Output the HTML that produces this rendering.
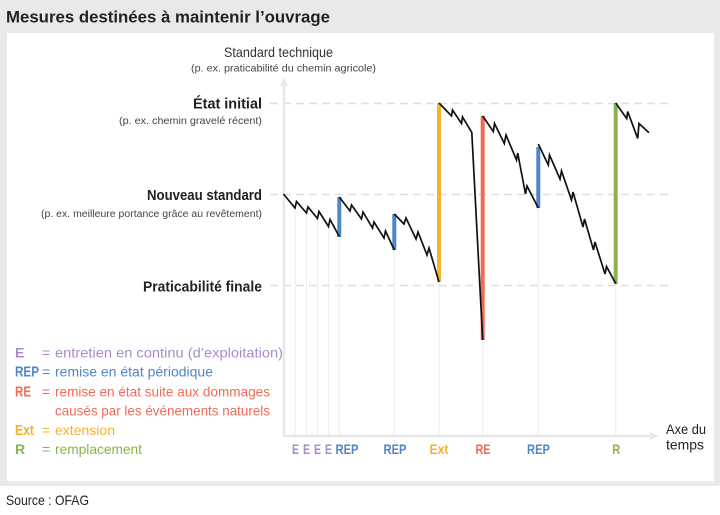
<!DOCTYPE html>
<html><head><meta charset="utf-8"><style>
html,body{margin:0;padding:0;background:#e9e9e9;}
svg{display:block;}
text{font-family:"Liberation Sans",sans-serif;}
</style></head><body>
<svg width="720" height="515" viewBox="0 0 720 515" xmlns="http://www.w3.org/2000/svg">
<rect x="0" y="0" width="720" height="515" fill="#e9e9e9"/>
<rect x="7" y="33" width="707" height="448" fill="#ffffff"/>
<rect x="0" y="486" width="720" height="29" fill="#ffffff"/>
<text x="6" y="22.5" font-size="17" font-weight="bold" fill="#222" textLength="324" lengthAdjust="spacingAndGlyphs">Mesures destinées à maintenir l’ouvrage</text>

<!-- dashed levels -->
<g stroke="#dedede" stroke-width="1.5" stroke-dasharray="8 5">
<line x1="270" y1="103.5" x2="668" y2="103.5"/>
<line x1="270" y1="194.5" x2="668" y2="194.5"/>
<line x1="270" y1="285.5" x2="668" y2="285.5"/>
</g>

<!-- thin grid verticals -->
<g stroke="#ececec" stroke-width="1">
<line x1="295" y1="208" x2="295" y2="436"/>
<line x1="306.5" y1="213" x2="306.5" y2="436"/>
<line x1="317.5" y1="219" x2="317.5" y2="436"/>
<line x1="328.5" y1="226" x2="328.5" y2="436"/>
<line x1="339.3" y1="236" x2="339.3" y2="436"/>
<line x1="394.3" y1="250" x2="394.3" y2="436"/>
<line x1="439" y1="282" x2="439" y2="436"/>
<line x1="482.7" y1="340" x2="482.7" y2="436"/>
<line x1="538.3" y1="208" x2="538.3" y2="436"/>
<line x1="615.7" y1="284" x2="615.7" y2="436"/>
</g>

<!-- axes -->
<line x1="284" y1="84" x2="284" y2="437" stroke="#e8e8e8" stroke-width="2.5"/>
<polygon points="284,77 280,86 288,86" fill="#e8e8e8"/>
<line x1="283" y1="436" x2="652" y2="436" stroke="#e8e8e8" stroke-width="2.5"/>
<polygon points="659,436 650,432 650,440" fill="#e8e8e8"/>

<!-- colored bars -->
<g stroke-width="4" stroke-linecap="butt">
<line x1="339.3" y1="237" x2="339.3" y2="197" stroke="#4f86c6"/>
<line x1="394.3" y1="250" x2="394.3" y2="214" stroke="#4f86c6"/>
<line x1="439" y1="282" x2="439" y2="103" stroke="#f7b12a"/>
<line x1="482.7" y1="340" x2="482.7" y2="116" stroke="#f06a55"/>
<line x1="538.3" y1="208" x2="538.3" y2="147" stroke="#4f86c6"/>
<line x1="615.7" y1="284" x2="615.7" y2="103" stroke="#8ab34a"/>
</g>

<!-- series -->
<g fill="none" stroke="#111" stroke-width="1.7">
<polyline points="283.5,194 295,208 296.5,201.5 306.5,213 308,207 317.5,218.5 319,211.5 328.5,226.5 330,219.5 339.3,236.5"/>
<polyline points="339.3,197 350,211 351.5,205 361.5,219 363,212 372.5,228 374,222 384,238 385.5,231 394.3,250"/>
<polyline points="394.3,214 404,224 406,218 416,239 418,232 427,255 429,248 439,282"/>
<polyline points="439,103 451.5,116 452.5,110 461.5,123.5 462.5,117 471.8,132.5 482.7,340"/>
<polyline points="482.7,116 493.3,131.5 494.5,123.5 504.3,143.5 506,135 516.5,160 517.7,153 525.5,194 527,186 538.3,208"/>
<polyline points="538.3,144 548.3,165 549.5,155 560,179 561.5,171 571.5,200 573,192 583,227 584.5,219 593.5,250 595,242 605,274 606.5,266.5 615.7,283.5"/>
<polyline points="615.7,103 626.7,118.5 627.7,111.5 637.7,138.5 639,123.5 649,132.7"/>
</g>

<!-- left labels -->
<text x="224" y="57" font-size="14" fill="#333" textLength="109" lengthAdjust="spacingAndGlyphs">Standard technique</text>
<text x="191" y="71.5" font-size="10.5" fill="#444" textLength="185" lengthAdjust="spacingAndGlyphs">(p. ex. praticabilité du chemin agricole)</text>
<text x="262" y="108.5" font-size="15" font-weight="bold" fill="#222" text-anchor="end" textLength="69" lengthAdjust="spacingAndGlyphs">État initial</text>
<text x="262" y="124" font-size="10.5" fill="#444" text-anchor="end" textLength="143" lengthAdjust="spacingAndGlyphs">(p. ex. chemin gravelé récent)</text>
<text x="262" y="200" font-size="15" font-weight="bold" fill="#222" text-anchor="end" textLength="115" lengthAdjust="spacingAndGlyphs">Nouveau standard</text>
<text x="262" y="217" font-size="10.5" fill="#444" text-anchor="end" textLength="221" lengthAdjust="spacingAndGlyphs">(p. ex. meilleure portance grâce au revêtement)</text>
<text x="262" y="291.5" font-size="15" font-weight="bold" fill="#222" text-anchor="end" textLength="119" lengthAdjust="spacingAndGlyphs">Praticabilité finale</text>

<!-- legend -->
<g font-size="14">
<text x="15" y="357.5" font-weight="bold" fill="#a78bc9">E</text>
<text x="42" y="357.5" fill="#a78bc9">=</text>
<text x="55" y="357.5" fill="#a78bc9" textLength="228" lengthAdjust="spacingAndGlyphs">entretien en continu (d’exploitation)</text>
<text x="15" y="376.5" font-weight="bold" fill="#4f86c6" font-size="15" textLength="24" lengthAdjust="spacingAndGlyphs">REP</text>
<text x="42" y="376.5" fill="#4f86c6">=</text>
<text x="55" y="376.5" fill="#4f86c6" textLength="158" lengthAdjust="spacingAndGlyphs">remise en état périodique</text>
<text x="15" y="396.5" font-weight="bold" fill="#f06a55" font-size="15" textLength="16" lengthAdjust="spacingAndGlyphs">RE</text>
<text x="42" y="396.5" fill="#f06a55">=</text>
<text x="55" y="396.5" fill="#f06a55" textLength="215" lengthAdjust="spacingAndGlyphs">remise en état suite aux dommages</text>
<text x="55" y="415.5" fill="#f06a55" textLength="215" lengthAdjust="spacingAndGlyphs">causés par les événements naturels</text>
<text x="15" y="435" font-weight="bold" fill="#f7b12a" font-size="15" textLength="19" lengthAdjust="spacingAndGlyphs">Ext</text>
<text x="42" y="435" fill="#f7b12a">=</text>
<text x="55" y="435" fill="#f7b12a" textLength="60" lengthAdjust="spacingAndGlyphs">extension</text>
<text x="15" y="454" font-weight="bold" fill="#8ab34a">R</text>
<text x="42" y="454" fill="#8ab34a">=</text>
<text x="55" y="454" fill="#8ab34a" textLength="87" lengthAdjust="spacingAndGlyphs">remplacement</text>
</g>

<!-- axis labels -->
<g font-size="14" font-weight="bold" text-anchor="middle">
<text x="295.5" y="454" fill="#a78bc9" textLength="7" lengthAdjust="spacingAndGlyphs">E</text>
<text x="306.5" y="454" fill="#a78bc9" textLength="7" lengthAdjust="spacingAndGlyphs">E</text>
<text x="317.5" y="454" fill="#a78bc9" textLength="7" lengthAdjust="spacingAndGlyphs">E</text>
<text x="328.5" y="454" fill="#a78bc9" textLength="7" lengthAdjust="spacingAndGlyphs">E</text>
<text x="347" y="454" fill="#4f86c6" textLength="23" lengthAdjust="spacingAndGlyphs">REP</text>
<text x="395" y="454" fill="#4f86c6" textLength="23" lengthAdjust="spacingAndGlyphs">REP</text>
<text x="439" y="454" fill="#f7b12a" textLength="19" lengthAdjust="spacingAndGlyphs">Ext</text>
<text x="483" y="454" fill="#f06a55" textLength="15" lengthAdjust="spacingAndGlyphs">RE</text>
<text x="538.5" y="454" fill="#4f86c6" textLength="23" lengthAdjust="spacingAndGlyphs">REP</text>
<text x="616.3" y="454" fill="#8ab34a" textLength="8" lengthAdjust="spacingAndGlyphs">R</text>
</g>
<text x="666" y="434" font-size="14" fill="#222" textLength="40" lengthAdjust="spacingAndGlyphs">Axe du</text>
<text x="666" y="449.5" font-size="14" fill="#222" textLength="38" lengthAdjust="spacingAndGlyphs">temps</text>

<text x="6" y="505" font-size="14" fill="#222" textLength="83" lengthAdjust="spacingAndGlyphs">Source : OFAG</text>
</svg>
</body></html>
